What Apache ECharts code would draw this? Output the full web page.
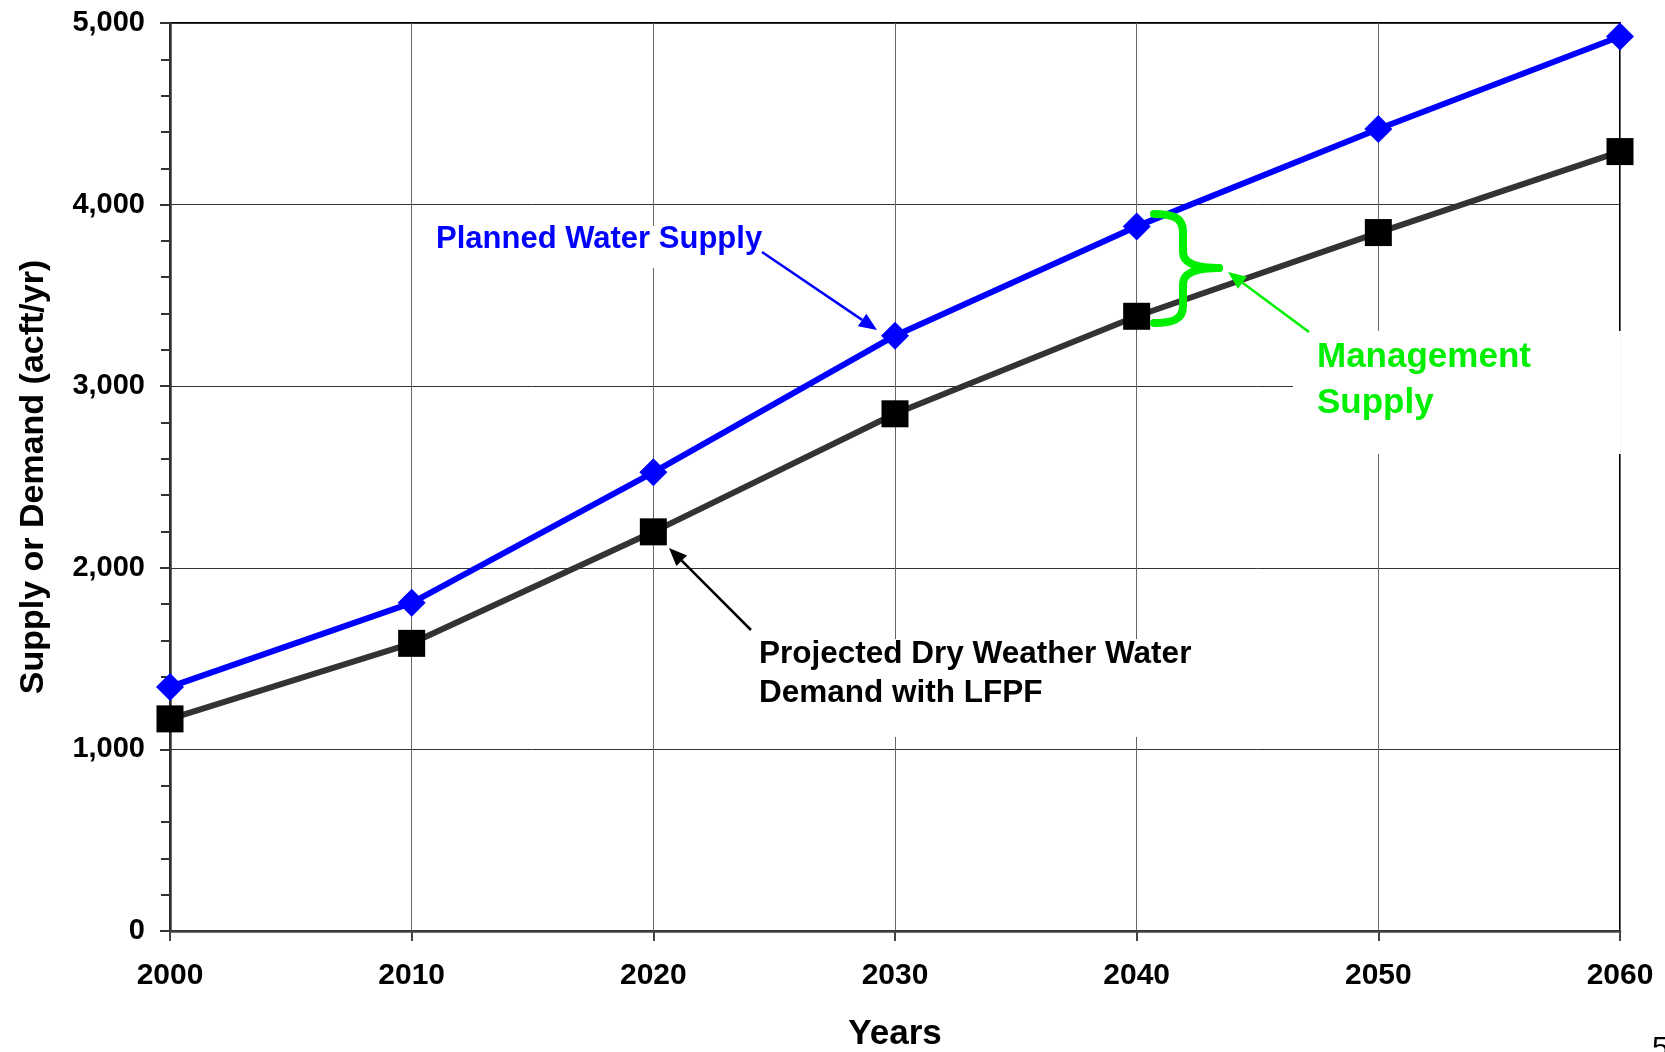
<!DOCTYPE html>
<html>
<head>
<meta charset="utf-8">
<script src="https://cdn.jsdelivr.net/npm/echarts@6/dist/echarts.min.js"></script>
<style>
  html, body { margin: 0; padding: 0; background: #fff; }
  #chart { width: 1665px; height: 1052px; }
</style>
</head>
<body>
<div id="chart"></div>
<script>
const years = [2000, 2010, 2020, 2030, 2040, 2050, 2060];
const plannedSupply = [1344, 1807, 2526, 3278, 3880, 4416, 4926];
const projectedDemand = [1168, 1584, 2198, 2848, 3385, 3846, 4292];

const FONT = "'Liberation Sans', Arial, sans-serif";
const GREEN = '#00ee00';

const chart = echarts.init(document.getElementById('chart'));

// arrow = line + filled head, pixel coords
const arrow = (x1, y1, x2, y2, color, width, headLen) => {
    const a = Math.atan2(y2 - y1, x2 - x1);
    const hl = headLen || 16, hw = hl * 0.42;
    const bx = x2 - hl * Math.cos(a), by = y2 - hl * Math.sin(a);
    return [
        {
            type: 'line', z: 20,
            shape: {x1: x1, y1: y1, x2: bx, y2: by},
            style: {stroke: color, lineWidth: width}
        },
        {
            type: 'polygon', z: 20,
            shape: {points: [[x2, y2], [bx - hw * Math.sin(a), by + hw * Math.cos(a)], [bx + hw * Math.sin(a), by - hw * Math.cos(a)]]},
            style: {fill: color}
        }
    ];
};

// text box with white fill, it cuts the grid lines like in the original
const label = (text, x, y, size, color, padding, lineHeight) => ({
    type: 'text', z: 15,
    style: {
        text: text, x: x, y: y,
        fontFamily: FONT, fontSize: size, fontWeight: 'bold',
        fill: color, lineHeight: lineHeight,
        backgroundColor: '#fff', padding: padding
    }
});

const curve = (x1, y1, cx1, cy1, cx2, cy2, x2, y2) => ({
    type: 'bezierCurve', z: 20,
    shape: {x1: x1, y1: y1, cpx1: cx1, cpy1: cy1, cpx2: cx2, cpy2: cy2, x2: x2, y2: y2},
    style: {fill: null, stroke: GREEN, lineWidth: 8, lineCap: 'round'}
});
const seg = (x1, y1, x2, y2) => ({
    type: 'line', z: 20,
    shape: {x1: x1, y1: y1, x2: x2, y2: y2},
    style: {stroke: GREEN, lineWidth: 8}
});

const option = {
    backgroundColor: '#fff',
    animation: false,
    grid: {
        left: 170, right: 45, top: 23, bottom: 121,
        outerBoundsMode: 'none',
        show: true, borderColor: '#000', borderWidth: 2
    },
    xAxis: {
        type: 'value',
        min: 2000, max: 2060, interval: 10,
        name: 'Years',
        nameLocation: 'middle',
        nameGap: 86,
        nameTextStyle: {fontFamily: FONT, fontSize: 35, fontWeight: 'bold', color: '#000'},
        axisLine: {lineStyle: {color: '#444', width: 2.5}},
        axisTick: {show: true, length: 10, lineStyle: {color: '#444', width: 2}},
        axisLabel: {
            margin: 30,
            fontFamily: FONT, fontSize: 30, fontWeight: 'bold', color: '#000',
            formatter: v => String(v)
        },
        splitLine: {show: true, lineStyle: {color: '#666', width: 1}}
    },
    yAxis: {
        type: 'value',
        min: 0, max: 5000, interval: 1000,
        name: 'Supply or Demand (acft/yr)',
        nameLocation: 'middle',
        nameRotate: 90,
        nameGap: 119,
        nameTextStyle: {fontFamily: FONT, fontSize: 34, fontWeight: 'bold', color: '#000'},
        axisLine: {show: true, lineStyle: {color: '#333', width: 2.5}},
        axisTick: {show: true, length: 10, lineStyle: {color: '#333', width: 2}},
        minorTick: {show: true, splitNumber: 5, length: 9, lineStyle: {color: '#333', width: 2}},
        axisLabel: {
            margin: 25,
            fontFamily: FONT, fontSize: 29, fontWeight: 'bold', color: '#000',
            formatter: v => v.toLocaleString('en-US')
        },
        splitLine: {show: true, lineStyle: {color: '#333', width: 1}}
    },
    series: [
        {
            name: 'Projected Dry Weather Water Demand with LFPF',
            type: 'line',
            clip: false,
            data: years.map((y, i) => [y, projectedDemand[i]]),
            symbol: 'rect',
            symbolSize: 27,
            lineStyle: {color: '#333', width: 6},
            itemStyle: {color: '#000'}
        },
        {
            name: 'Planned Water Supply',
            type: 'line',
            clip: false,
            data: years.map((y, i) => [y, plannedSupply[i]]),
            symbol: 'diamond',
            symbolSize: 28,
            lineStyle: {color: '#0000ff', width: 6},
            itemStyle: {color: '#0000ff'}
        }
    ]
};

chart.setOption(option);

// curly brace between the two 2040 points
const brace = [
    curve(1154, 214, 1172, 214, 1183, 217, 1183, 232),
    seg(1183, 232, 1183, 252),
    curve(1183, 252, 1183, 263, 1195, 268, 1219, 268),
    curve(1219, 268, 1195, 268, 1183, 273, 1183, 284),
    seg(1183, 284, 1183, 306),
    curve(1183, 306, 1183, 320, 1172, 323, 1154, 323)
];

chart.setOption({
    graphic: [
        label('Planned Water Supply', 432, 226, 31, '#0000ff', [-4, 4, 12, 4], 34),
        label('Projected Dry Weather Water\nDemand with LFPF', 745, 639, 31.5, '#000', [-4, 12, 24, 14], 39),
        label('Management\nSupply', 1293, 331, 35, GREEN, [3, 90, 28, 24], 46),
        {
            type: 'text', z: 15,
            style: {text: '5', x: 1652, y: 1034, fontFamily: FONT, fontSize: 30, fill: '#000'}
        }
    ]
        .concat(brace)
        .concat(arrow(762, 252, 877, 330, '#0000ff', 2.5, 18))
        .concat(arrow(751, 630, 669, 548, '#000', 2.5, 18))
        .concat(arrow(1309, 332, 1228, 272, GREEN, 2.5, 18))
});
</script>
</body>
</html>
